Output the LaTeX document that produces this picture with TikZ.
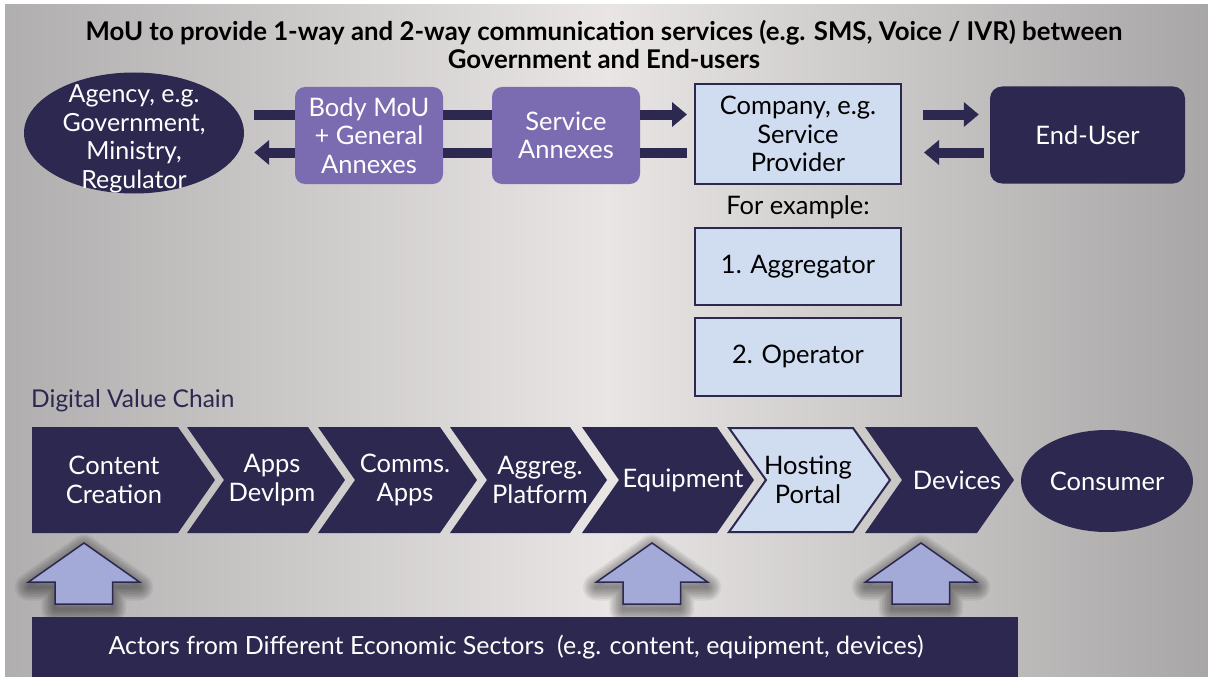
\documentclass[tikz,border=0pt]{standalone}
\usepackage{fontspec}
\setmainfont{Lato}
\usetikzlibrary{arrows.meta,shapes.geometric,calc}
\definecolor{navy}{RGB}{44,40,80}
\definecolor{purp}{RGB}{123,107,176}
\definecolor{lblue}{RGB}{208,220,240}
\definecolor{arrowblue}{RGB}{163,170,216}
\definecolor{bgside}{RGB}{176,174,174}
\definecolor{bgmid}{RGB}{233,229,229}
\definecolor{bgright}{RGB}{168,166,166}
\tikzset{
  txt/.style={font=\fontsize{25.5}{28.5}\selectfont, align=center, inner sep=0pt},
  darkell/.style={ellipse, fill=navy, inner sep=0pt},
  purpbox/.style={rounded corners=10pt, fill=purp, text=white, txt},
  lightbox/.style={draw=navy, line width=2pt, fill=lblue, text=black, txt},
  darkbox/.style={rounded corners=12pt, fill=navy, text=white, txt},
  barline/.style={draw=navy, line width=10pt},
  bar/.style={barline, -{Triangle[length=15pt,width=24pt]}},
  chevdark/.style={fill=navy},
  chevlight/.style={fill=lblue, draw=navy, line width=2pt},
  upblock/.style={fill=arrowblue, draw=navy, line width=1.5pt, line join=miter},
  glow/.style={draw=black, opacity=0.06, line join=round},
}
\begin{document}
\begin{tikzpicture}[x=1pt,y=-1pt]
\useasboundingbox (0,0) rectangle (1208,677);
\fill[white] (0,0) rectangle (1208,677);
\shade[left color=bgside,right color=bgright,middle color=bgmid] (5,5) rectangle (1208,677);

% title
\node[font=\bfseries\fontsize{25.8}{28}\selectfont, align=center, inner sep=0pt] (title) at (604,44)
  {MoU to provide 1-way and 2-way communication services (e.g. SMS, Voice / IVR) between\\Government and End-users};

% top row
\node[darkell, minimum width=220pt, minimum height=121pt] (agency) at (134,133) {};
\node[txt, text=white, font=\fontsize{25}{28.5}\selectfont] (agencyT) at ($(agency.center)+(0,6)$) {Agency, e.g.\\Government,\\Ministry,\\Regulator};
\node[purpbox, minimum width=148pt, minimum height=97pt] (body) at (369,135.5) {Body MoU\\+ General\\Annexes};
\node[purpbox, minimum width=148pt, minimum height=97pt] (service) at (566,135.5) {Service\\Annexes};
\node[lightbox, minimum width=206pt, minimum height=99pt] (company) at (798,134) {Company, e.g.\\Service\\Provider};
\node[darkbox, minimum width=195pt, minimum height=97pt] (enduser) at (1087.5,135) {End-User};
\node[txt] (forex) at (798,207) {For example:};
\node[lightbox, minimum width=206pt, minimum height=77pt] (aggr) at (798,266.5) {1. Aggregator};
\node[lightbox, minimum width=206pt, minimum height=78pt] (oper) at (798,356.5) {2. Operator};

% connectors, top row
\draw[barline] ($(agency.east)+(10,-18.5)$) -- ($(body.west)+(0,-21)$);
\draw[barline] ($(body.east)+(0,-21)$) -- ($(service.west)+(0,-21)$);
\draw[bar] ($(service.east)+(0,-21)$) -- ($(company.west)+(-7,-19.5)$);
\draw[barline] ($(company.west)+(-7,18.5)$) -- ($(service.east)+(0,17)$);
\draw[barline] ($(service.west)+(0,17)$) -- ($(body.east)+(0,17)$);
\draw[bar] ($(body.west)+(0,17)$) -- ($(agency.east)+(10,19.5)$);
\draw[bar] ($(company.east)+(21,-19.5)$) -- ($(enduser.west)+(-11,-20.5)$);
\draw[bar] ($(enduser.west)+(-6,17.5)$) -- ($(company.east)+(22,18.5)$);

% value chain
\node[anchor=west, text=navy, font=\fontsize{24.5}{28}\selectfont, inner sep=0pt] (dvc) at (31,401) {Digital Value Chain};

\fill[chevdark] (32,427) -- (178,427) -- (215,480) -- (178,533) -- (32,533) -- cycle;
\fill[chevdark] (187,427) -- (308,427) -- (345,480) -- (308,533) -- (187,533) -- (224,480) -- cycle;
\fill[chevdark] (318,427) -- (440,427) -- (477,480) -- (440,533) -- (318,533) -- (355,480) -- cycle;
\fill[chevdark] (450,427) -- (570,427) -- (607,480) -- (570,533) -- (450,533) -- (487,480) -- cycle;
\fill[chevdark] (582,427) -- (717,427) -- (754,480) -- (717,533) -- (582,533) -- (619,480) -- cycle;
\filldraw[chevlight] (729,428) -- (853,428) -- (890,480) -- (853,532) -- (729,532) -- (766,480) -- cycle;
\fill[chevdark] (865,427) -- (977,427) -- (1014,480) -- (977,533) -- (865,533) -- (902,480) -- cycle;

\node[txt, text=white] (c1) at (114,480) {Content\\Creation};
\node[txt, text=white] (c2) at (272,480) {Apps\\Devlpm};
\node[txt, text=white] (c3) at (405,480) {Comms.\\Apps};
\node[txt, text=white] (c4) at (540,480) {Aggreg.\\Platform};
\node[txt, text=white] (c5) at (683,480) {Equipment};
\node[txt, text=black] (c6) at (808,480) {Hosting\\Portal};
\node[txt, text=white] (c7) at (957,480) {Devices};
\node[darkell, minimum width=172pt, minimum height=102pt, text=white, font=\fontsize{25.5}{28.5}\selectfont] (consumer) at (1107,481) {Consumer};

% up arrows with soft shadow
\foreach \cx in {84,652,921} {
  \foreach \k in {1,...,8} {
    \draw[glow, line width=\k*3.4pt, shift={(0,5)}]
      (\cx,543) -- (\cx+55.5,582) -- (\cx+28.5,582) -- (\cx+28.5,604) -- (\cx-29,604) -- (\cx-29,582) -- (\cx-55.5,582) -- cycle;
  }
  \filldraw[upblock]
    (\cx,543) -- (\cx+55.5,582) -- (\cx+28.5,582) -- (\cx+28.5,604) -- (\cx-29,604) -- (\cx-29,582) -- (\cx-55.5,582) -- cycle;
}

% actors bar
\node[fill=navy, minimum width=986pt, minimum height=60pt, inner sep=0pt] (actors) at (525,647) {};
\node[txt, text=white, font=\fontsize{25}{28}\selectfont] (actorsT) at ($(actors.center)+(-9,0)$) {Actors from Different Economic Sectors\ \ (e.g. content, equipment, devices)};
\end{tikzpicture}
\end{document}
